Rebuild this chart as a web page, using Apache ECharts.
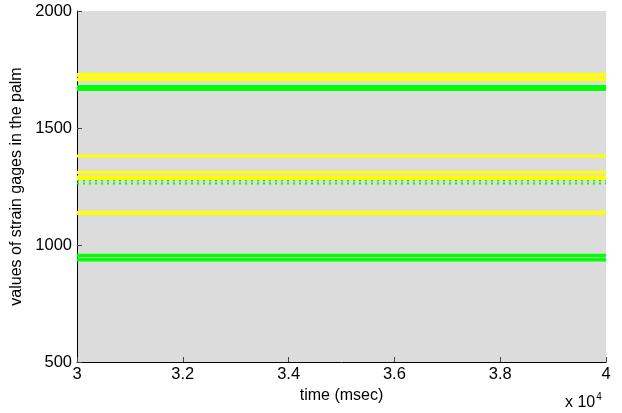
<!doctype html>
<html>
<head>
	<meta charset="UTF-8">
	<title>strain gages in the palm</title>
	<style>
		html, body { margin: 0; padding: 0; background: #fff; }
		#chart { width: 622px; height: 413px; }
	</style>
</head>
<body>
	<div id="chart"></div>
	<script src="https://cdn.jsdelivr.net/npm/echarts@6/dist/echarts.min.js"></script>
	<script type="text/javascript">
		// time range of the recording (msec)
		var timeRange = [30000, 40000];
		var xTickLabels = ['3', '3.2', '3.4', '3.6', '3.8', '4'];
		var yTickLabels = ['500', '1000', '1500', '2000'];

		// mean value of each gage
		var greenUnder = [1276, 1263];
		var yellowGages = [1726, 1707, 1380, 1310, 1287, 1137];
		var greenGages = [1671, 955, 937];

		// line thickness per gage (px), same order as above
		var greenUnderWidths = [2, 2];
		var yellowWidths = [4, 3.5, 3, 3, 4.5, 4];
		var greenWidths = [6, 3.5, 3.5];

		var font = 'Liberation Sans, Arial, Helvetica, sans-serif';

		function makeSeries(levels, widths, color, dash) {
			var out = [];
			for (var i = 0; i < levels.length; i++) {
				out.push({
					type: 'line',
					symbol: 'none',
					silent: true,
					data: [[timeRange[0], levels[i]], [timeRange[1], levels[i]]],
					lineStyle: { color: color, width: widths[i], type: dash || 'solid' }
				});
			}
			return out;
		}

		var series = makeSeries(greenUnder, greenUnderWidths, '#00ff00', [2, 4])
			.concat(makeSeries(yellowGages, yellowWidths, '#ffff00'))
			.concat(makeSeries(greenGages, greenWidths, '#00ff00'));

		var option = {
			animation: false,
			grid: {
				left: 77,
				right: 16,
				top: 11,
				bottom: 51,
				show: true,
				backgroundColor: '#dcdcdc',
				borderWidth: 0
			},
			xAxis: {
				type: 'value',
				min: timeRange[0],
				max: timeRange[1],
				interval: 2000,
				name: 'time (msec)',
				nameLocation: 'middle',
				nameGap: 20,
				nameTextStyle: { color: '#000', fontSize: 16, fontFamily: font },
				axisLine: { onZero: false, lineStyle: { color: '#000', width: 1 } },
				axisTick: { inside: true, length: 5, lineStyle: { color: '#444' } },
				axisLabel: {
					color: '#000',
					fontSize: 16.5,
					fontFamily: font,
					margin: 4,
					formatter: function(v) {
						return xTickLabels[Math.round((v - timeRange[0]) / 2000)];
					}
				},
				splitLine: { show: false }
			},
			yAxis: {
				type: 'value',
				min: 500,
				max: 2000,
				interval: 500,
				name: 'values of strain gages in the palm',
				nameLocation: 'middle',
				nameGap: 50,
				nameTextStyle: { color: '#000', fontSize: 16, fontFamily: font },
				axisLine: { lineStyle: { color: '#000', width: 1 } },
				axisTick: { inside: true, length: 5, lineStyle: { color: '#444' } },
				axisLabel: {
					color: '#000',
					fontSize: 16.5,
					fontFamily: font,
					margin: 5,
					formatter: function(v) {
						return yTickLabels[Math.round((v - 500) / 500)];
					}
				},
				splitLine: { show: false }
			},
			graphic: [{
				type: 'text',
				left: 565,
				top: 392,
				style: {
					text: '{a|x 10}{b|4}',
					rich: {
						a: { fontSize: 16, fontFamily: font, fill: '#000', verticalAlign: 'bottom' },
						b: { fontSize: 10, fontFamily: font, fill: '#000', verticalAlign: 'top', padding: [0, 0, 9, 1] }
					}
				}
			}],
			series: series
		};

		var chart = echarts.init(document.getElementById('chart'));
		chart.setOption(option);
	</script>
</body>
</html>
